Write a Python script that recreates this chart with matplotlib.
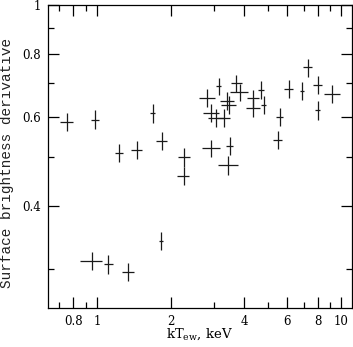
import matplotlib
matplotlib.use("Agg")
import matplotlib.pyplot as plt
from matplotlib.ticker import FixedLocator, FixedFormatter, NullFormatter

# Data (kT_ew in keV, surface brightness derivative)
kt = [0.752, 0.984, 1.233, 1.452, 1.688, 1.837, 2.272, 2.259,
      0.951, 1.112, 1.342, 1.825,
      2.819, 3.147, 2.938, 3.080, 3.299, 3.416, 3.467, 3.718, 3.834,
      4.345, 4.345, 4.701, 4.804, 5.584, 5.495, 6.095, 6.915, 7.288,
      8.004, 8.004, 9.163, 2.938, 3.491, 3.449]
kt_err = [0.047, 0.037, 0.043, 0.078, 0.037, 0.098, 0.125, 0.125,
          0.097, 0.049, 0.072, 0.037,
          0.21, 0.074, 0.23, 0.24, 0.20, 0.22, 0.25, 0.19, 0.33,
          0.25, 0.29, 0.13, 0.11, 0.16, 0.24, 0.26, 0.14, 0.32,
          0.33, 0.20, 0.67, 0.26, 0.125, 0.31]
sbd = [0.586, 0.593, 0.509, 0.516, 0.611, 0.537, 0.499, 0.458,
       0.3115, 0.3065, 0.2955, 0.341,
       0.654, 0.690, 0.612, 0.598, 0.598, 0.645, 0.635, 0.699, 0.671,
       0.653, 0.625, 0.678, 0.633, 0.600, 0.540, 0.681, 0.675, 0.752,
       0.694, 0.619, 0.666, 0.520, 0.526, 0.4815]
sbd_err = [0.024, 0.025, 0.021, 0.021, 0.026, 0.022, 0.021, 0.019,
           0.013, 0.013, 0.012, 0.014,
           0.027, 0.028, 0.025, 0.025, 0.025, 0.027, 0.026, 0.028, 0.027,
           0.027, 0.026, 0.028, 0.026, 0.025, 0.022, 0.028, 0.028, 0.031,
           0.028, 0.026, 0.027, 0.021, 0.022, 0.020]

x_major = [0.8, 1, 2, 4, 6, 8, 10]
x_major_labels = ["0.8", "1", "2", "4", "6", "8", "10"]
x_minor = [0.7, 0.9, 3, 5, 7, 9]
y_major = [0.4, 0.6, 0.8, 1.0]
y_major_labels = ["0.4", "0.6", "0.8", "1"]
y_minor = [0.3, 0.5, 0.7, 0.9]

plt.rcParams['font.family'] = ['DejaVu Serif']
plt.rcParams['mathtext.fontset'] = 'dejavuserif'

fig = plt.figure(figsize=(3.53, 3.47), dpi=100)
ax = fig.add_axes([48/353, 1-308/347, (351.5-48)/353, (308-5)/347])

ax.errorbar(kt, sbd, xerr=kt_err, yerr=sbd_err, fmt='none',
            ecolor='#1a1a1a', elinewidth=0.9, capsize=0)

ax.set_xscale('log')
ax.set_yscale('log')
ax.set_xlim(0.63, 11.0)
ax.set_ylim(0.251, 1.0)

ax.xaxis.set_major_locator(FixedLocator(x_major))
ax.xaxis.set_major_formatter(FixedFormatter(x_major_labels))
ax.xaxis.set_minor_locator(FixedLocator(x_minor))
ax.xaxis.set_minor_formatter(NullFormatter())
ax.yaxis.set_major_locator(FixedLocator(y_major))
ax.yaxis.set_major_formatter(FixedFormatter(y_major_labels))
ax.yaxis.set_minor_locator(FixedLocator(y_minor))
ax.yaxis.set_minor_formatter(NullFormatter())

ax.tick_params(which='both', direction='in', top=True, right=True,
               width=0.9, labelsize=8.5, colors='black', pad=5)
ax.tick_params(which='major', length=8)
ax.tick_params(which='minor', length=4)
for s in ax.spines.values():
    s.set_linewidth(0.9)

ax.set_xlabel(r'kT$_{\rm ew}$, keV', fontsize=9.5, labelpad=-1)
fig.text(7/353, 1-162.5/347, 'Surface brightness derivative',
         rotation=90, ha='center', va='center', fontsize=10.4,
         family='Liberation Mono', color='#222222')

fig.savefig('out.png', dpi=100)
